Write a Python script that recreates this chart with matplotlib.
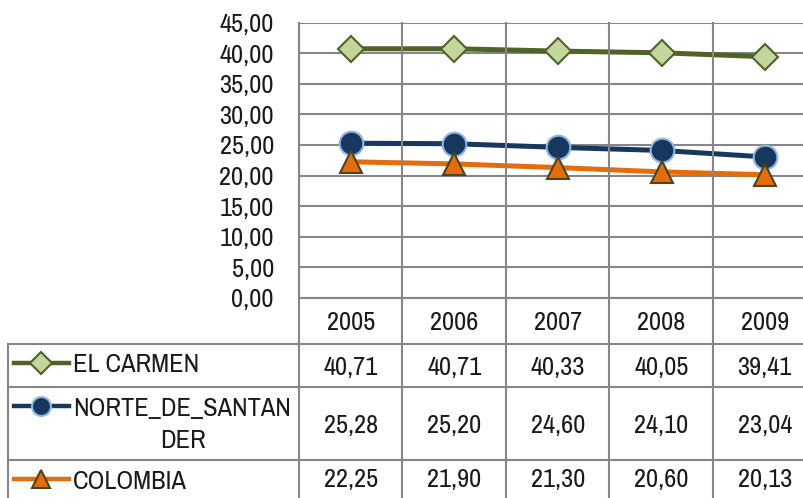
import matplotlib
matplotlib.use('Agg')
import matplotlib.pyplot as plt
from matplotlib.lines import Line2D
from matplotlib.ticker import MultipleLocator, FuncFormatter

plt.rcParams['font.family'] = ['Arial Narrow', 'Liberation Sans Narrow', 'Archivo Narrow',
                               'PT Sans Narrow', 'Roboto Condensed', 'DejaVu Sans']

# Data
years = ['2005', '2006', '2007', '2008', '2009']
el_carmen = [40.71, 40.71, 40.33, 40.05, 39.41]
norte = [25.28, 25.20, 24.60, 24.10, 23.04]
colombia = [22.25, 21.90, 21.30, 20.60, 20.13]
series_names = ['EL CARMEN', 'NORTE_DE_SANTAN\nDER', 'COLOMBIA']

W, H = 804, 498
fig = plt.figure(figsize=(W / 100, H / 100), dpi=100)
grid_col = '#868686'
text_col = '#1a1a1a'
fs = 19

# plot area (pixel coords converted to figure fractions)
x0, x1 = 299, 817
y_top, y_bot = 22.5, 298
ax = fig.add_axes([x0 / W, 1 - y_bot / H, (x1 - x0) / W, (y_bot - y_top) / H])

styles = [
    dict(color='#4F6228', marker='D', markersize=13.5, markerfacecolor='#C3D69B',
         markeredgecolor='#4F6228', markeredgewidth=1.5),
    dict(color='#17375E', marker='o', markersize=17, markerfacecolor='#17375E',
         markeredgecolor='#8EB4E3', markeredgewidth=1.5),
    dict(color='#E46C0A', marker='^', markersize=15.5, markerfacecolor='#E46C0A',
         markeredgecolor='#4A4520', markeredgewidth=1.5),
]
all_series = [el_carmen, norte, colombia]
xs = list(range(len(years)))
for vals, st in zip(all_series, styles):
    ax.plot(xs, vals, linewidth=3.6, zorder=3, clip_on=False, **st)

ax.set_xlim(-0.5, len(years) - 0.5)
ax.set_ylim(0, 45)
ax.yaxis.set_major_locator(MultipleLocator(5))
ax.yaxis.set_major_formatter(FuncFormatter(lambda v, p: f'{v:.2f}'.replace('.', ',')))
ax.grid(axis='y', color=grid_col, linewidth=1.5)
ax.set_axisbelow(True)
ax.set_xticks([])
ax.tick_params(axis='y', length=0, pad=18, labelsize=fs, labelcolor=text_col)
for s in ['top', 'right', 'bottom']:
    ax.spines[s].set_visible(False)
ax.spines['left'].set_color(grid_col)
ax.spines['left'].set_linewidth(1.5)

# data table drawn in pixel space
tb = fig.add_axes([0, 0, 1, 1])
tb.set_xlim(0, W)
tb.set_ylim(H, 0)
tb.axis('off')

col_w = 103.5
col_edges = [x0 + i * col_w for i in range(len(years) + 1)]
row_edges = [y_bot, 344, 387, 460]
tb_left = 8
lk = dict(color=grid_col, linewidth=1.5)

tb.plot([x0, W], [y_bot, y_bot], **lk)
for y in row_edges[1:]:
    tb.plot([tb_left, W], [y, y], **lk)
tb.plot([tb_left, tb_left], [row_edges[1], H], **lk)
for x in col_edges:
    tb.plot([x, x], [y_top, H], **lk)

txt = dict(fontsize=fs, color=text_col, ha='center', va='center')
for i, yr in enumerate(years):
    tb.text(col_edges[i] + col_w / 2, 322, yr, **txt)

row_mid = [367, 425, 479]
for r, vals in enumerate(all_series):
    for i, v in enumerate(vals):
        tb.text(col_edges[i] + col_w / 2, row_mid[r], f'{v:.2f}'.replace('.', ','), **txt)

# legend keys + names
key_y = [362.5, 406, 479]
for r, st in enumerate(styles):
    line_st = {k: v for k, v in st.items() if not k.startswith('marker')}
    mk_st = {k: v for k, v in st.items() if k != 'color'}
    mk_st['markersize'] = st['markersize'] * 0.8
    tb.add_line(Line2D([14, 69], [key_y[r], key_y[r]], linewidth=3.2, **line_st))
    tb.add_line(Line2D([41.5], [key_y[r]], linestyle='none', **mk_st))

name_lines = [series_names[0], series_names[1].split('\n')[0], series_names[2]]
for r, nm in enumerate(name_lines):
    tb.text(73, key_y[r] + 2, nm, fontsize=fs, color=text_col, va='center')
tb.text(183, 440, series_names[1].split('\n')[1], fontsize=fs, color=text_col,
        va='center', ha='center')

fig.savefig('out.png', dpi=100)
